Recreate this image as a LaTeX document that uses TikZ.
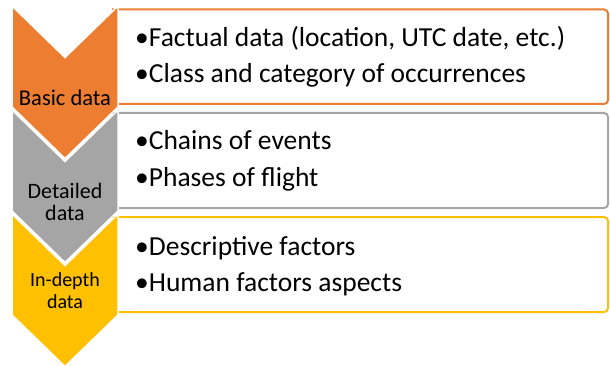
\documentclass[tikz,border=0pt]{standalone}
\usepackage{fontspec}
\setmainfont{Carlito}
\usepackage{xcolor}
\definecolor{accorange}{HTML}{ED7D31}
\definecolor{accgray}{HTML}{A5A5A5}
\definecolor{accgold}{HTML}{FFC000}

\begin{document}
\begin{tikzpicture}[x=1pt, y=-1pt,
  chev/.style={draw=white, line width=1.5pt},
  frame/.style={line width=2pt, rounded corners=4pt},
  item/.style={anchor=base west, inner sep=0pt, font=\fontsize{27.5}{30}\selectfont},
  tag/.style={anchor=base, inner sep=0pt, align=center}]
\useasboundingbox (0,0) rectangle (610,366);

% boxes
\draw[frame, accorange] (112,9.5) -- (608,9.5) -- (608,104) -- (112,104);
\draw[frame, accgray] (112,113) -- (608,113) -- (608,208) -- (112,208);
\draw[frame, accgold] (112,217) -- (608,217) -- (608,312) -- (112,312);

% chevrons
\filldraw[chev, fill=accorange] (12,6) -- (65,57.5) -- (118,6) -- (118,107) -- (65,158.5) -- (12,107) -- cycle;
\filldraw[chev, fill=accgray] (12,110) -- (65,161.5) -- (118,110) -- (118,211) -- (65,262.5) -- (12,211) -- cycle;
\filldraw[chev, fill=accgold] (12,214) -- (65,265.5) -- (118,214) -- (118,315) -- (65,366.5) -- (12,315) -- cycle;

% labels (base = last line)
\node[tag, font=\fontsize{22.5}{22}\selectfont] (basic) at (65,106) {Basic data};
\node[tag, font=\fontsize{22}{22}\selectfont] (detail) at (65,220) {Detailed\\data};
\node[tag, font=\fontsize{20}{22}\selectfont] (depth) at (65,308) {In-depth\\data};

% items
\node[item] (fact) at (135,47) {•Factual data (location, UTC date, etc.)};
\node[item] (class) at (135,83) {•Class and category of occurrences};
\node[item] (chain) at (135,150) {•Chains of events};
\node[item] (phase) at (135,186) {•Phases of flight};
\node[item] (desc) at (135,255) {•Descriptive factors};
\node[item] (human) at (135,291) {•Human factors aspects};
\end{tikzpicture}
\end{document}
